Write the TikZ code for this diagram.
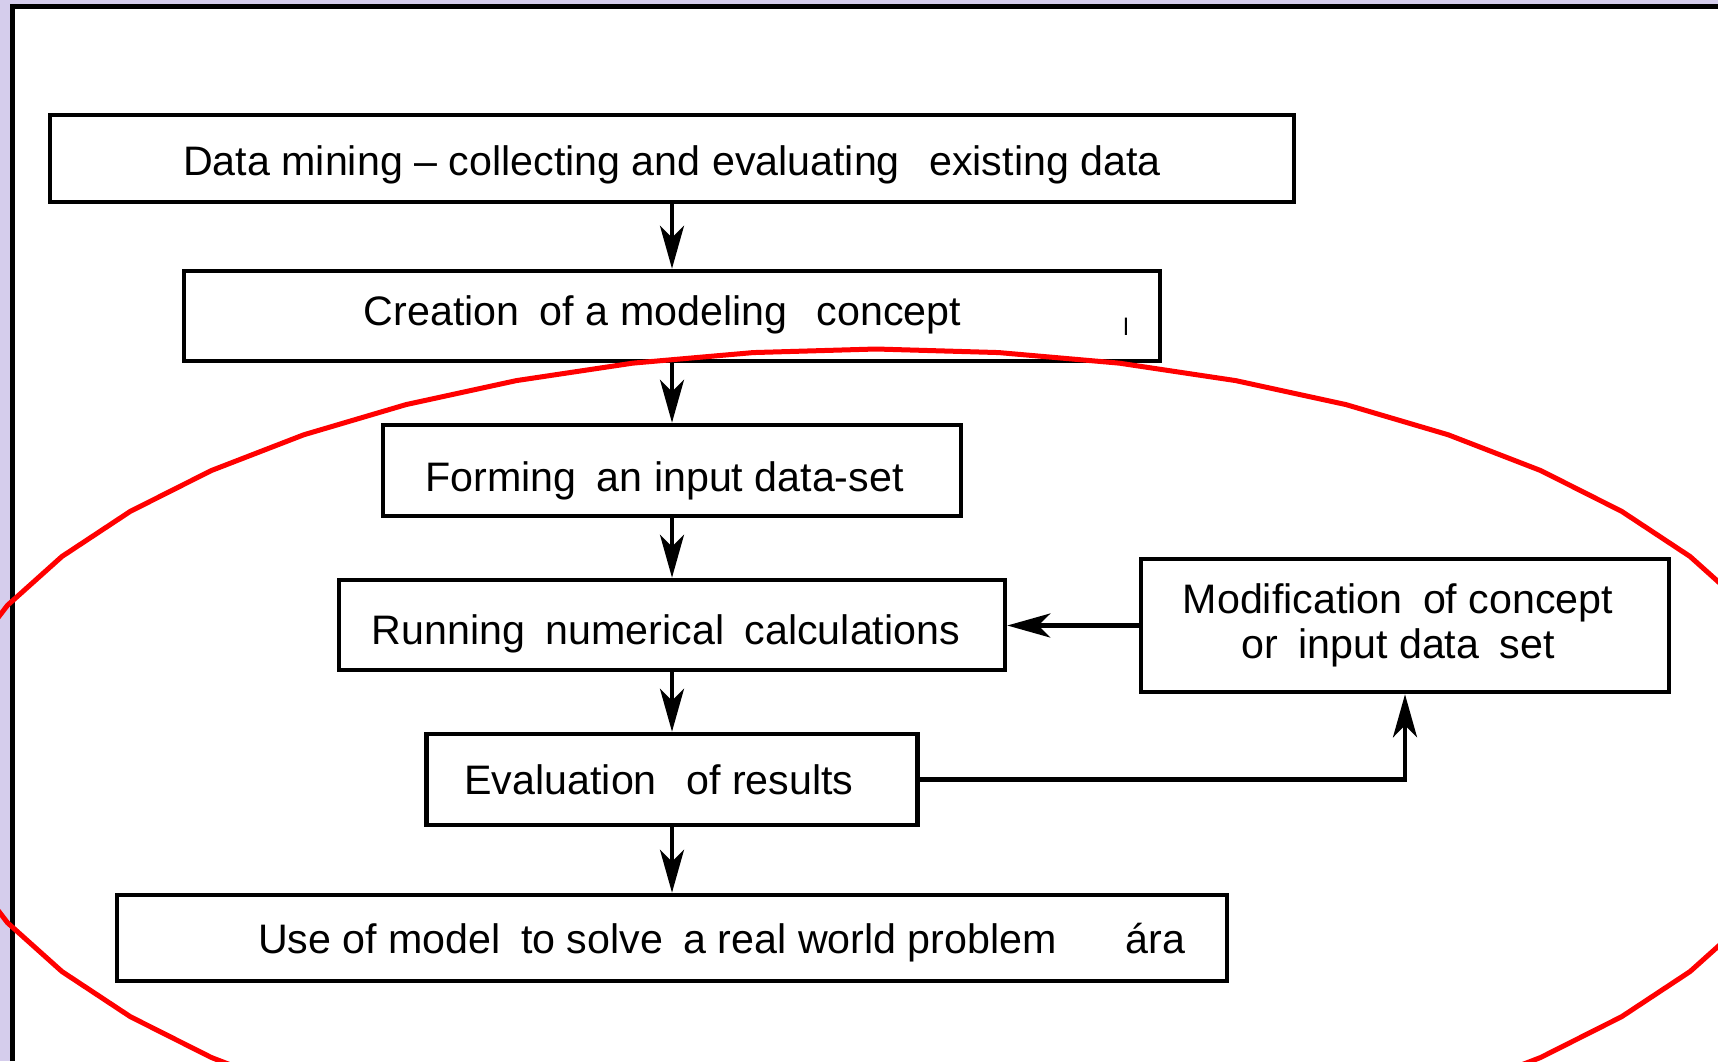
\documentclass[tikz,border=0pt]{standalone}
\usepackage{fontspec}
\setmainfont{Liberation Sans}
\usetikzlibrary{arrows.meta}
\definecolor{lavender}{RGB}{213,205,236}
\newcommand{\wsp}{\hspace{4.5pt}}
\begin{document}
\begin{tikzpicture}[x=0.5pt,y=-0.5pt,
        box/.style={draw,line width=2.3pt,inner sep=0pt,align=center,font=\fontsize{20.6}{22.5}\selectfont},
        base/.style={text height=#1,text depth=8pt},
        arr/.style={line width=2.3pt,-{Stealth[length=21.5pt,width=12pt,inset=6pt]}}]
    \useasboundingbox (0,0) rectangle (1718,1061);
    \fill[lavender] (0,0) rectangle (1718,1061);
    \fill[white] (12,6) rectangle (1718,1061);
    \draw[line width=2.5pt] (12,1061) -- (12,6) -- (1718,6);
    % chain of steps
    \node[box,base=24.5pt,minimum width=622pt,minimum height=43.5pt] (mining) at (672,158.5) {Data mining -- collecting and evaluating\wsp\wsp{} existing data};
    \node[box,base=17pt,minimum width=488pt,minimum height=45pt] (concept) at (672,316) {Creation\wsp{} of a modeling\wsp\wsp{} concept\hspace*{9.5pt}};
    \node[box,base=28.5pt,minimum width=289pt,minimum height=45.5pt] (input) at (672,470.5) {Forming\wsp{} an input data-set\hspace*{7.5pt}};
    \node[box,base=27pt,minimum width=333pt,minimum height=45pt] (running) at (672,625) {Running\wsp{} numerical\wsp{} calculations\hspace*{6pt}};
    \node[box,base=22.5pt,minimum width=245.5pt,minimum height=45.5pt] (results) at (672,779.5) {Evaluation\wsp\wsp{} of results\hspace*{13pt}};
    \node[box,base=23pt,minimum width=555pt,minimum height=43pt] (use) at (672,938) {Use of model\wsp{} to solve\wsp{} a real world problem\hspace*{14.5pt}};
    \node[box,minimum width=264pt,minimum height=66.5pt] (modif) at (1405,625.5) {Modification\wsp{} of concept\hspace*{7pt}\\or\wsp{} input data\wsp{} set\hspace*{7pt}};
    \node[font=\fontsize{20.6}{22.5}\selectfont,anchor=base west,inner sep=0pt] (ara) at (1125,953) {ára};
    \node[font=\fontsize{12}{12}\selectfont,anchor=base,inner sep=0pt] (tick) at (1126,335) {l};
    % arrows
    \draw[arr] (mining.south) -- (concept.north);
    \draw[arr] (concept.south) -- (input.north);
    \draw[arr] (input.south) -- (running.north);
    \draw[arr] (running.south) -- (results.north);
    \draw[arr] (results.south) -- (use.north);
    \draw[arr] (modif.west) -- (modif.west -| running.east);
    \draw[arr] (results.east) -| (modif.south);
    % red ring
    \draw[red,line width=2.5pt] plot[domain=0:360,samples=49] ({876+940*cos(\x)},{764+415*sin(\x)});
\end{tikzpicture}
\end{document}
